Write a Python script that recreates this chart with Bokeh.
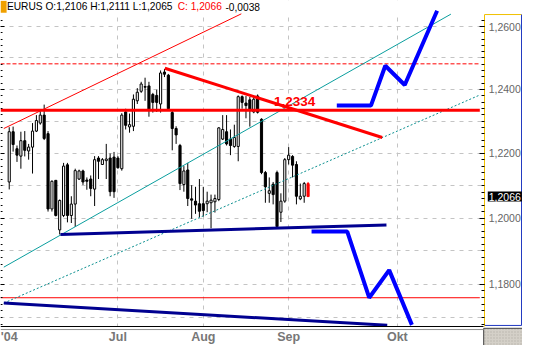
import numpy as np
from bokeh.plotting import figure
from bokeh.models import Range1d, FixedTicker, Label, ColumnDataSource, LogAxis
from bokeh.embed import file_html
from bokeh.resources import INLINE

# ---- daily EUR/USD candles (bar index 0 .. 77) ----
opens = [1.2111, 1.2267, 1.2214, 1.2191, 1.2239, 1.2207, 1.2219, 1.2269, 1.2294, 1.2319,
         1.2261, 1.2028, 1.2116, 1.1964, 1.2008, 1.2164, 1.2008, 1.2043, 1.2120, 1.2145,
         1.2117, 1.2120, 1.2089, 1.2185, 1.2165, 1.2177, 1.2185, 1.2188, 1.2185, 1.2152,
         1.2329, 1.2282, 1.2284, 1.2364, 1.2394, 1.2409, 1.2411, 1.2384, 1.2381, 1.2354,
         1.2455, 1.2445, 1.2327, 1.2277, 1.2224, 1.2103, 1.2148, 1.2059, 1.2052, 1.2044,
         1.2044, 1.2044, 1.2047, 1.2050, 1.2057, 1.2244, 1.2267, 1.2244, 1.2221, 1.2221,
         1.2377, 1.2357, 1.2367, 1.2329, 1.2379, 1.2306, 1.2140, 1.2076, 1.2104, 1.2140,
         1.2018, 1.2052, 1.2180, 1.2190, 1.2165, 1.2059, 1.2067, 1.2106]
closes = [1.2267, 1.2227, 1.2194, 1.2239, 1.2209, 1.2219, 1.2269, 1.2302, 1.2319, 1.2246,
          1.2028, 1.2113, 1.2008, 1.2054, 1.2160, 1.2008, 1.2043, 1.2146, 1.2145, 1.2111,
          1.2113, 1.2091, 1.2180, 1.2175, 1.2180, 1.2182, 1.2081, 1.2081, 1.2155, 1.2319,
          1.2287, 1.2289, 1.2369, 1.2391, 1.2417, 1.2407, 1.2334, 1.2359, 1.2359, 1.2452,
          1.2448, 1.2339, 1.2277, 1.2257, 1.2106, 1.2145, 1.2060, 1.2055, 1.2040, 1.2021,
          1.2023, 1.2052, 1.2055, 1.2060, 1.2279, 1.2274, 1.2229, 1.2224, 1.2249, 1.2377,
          1.2359, 1.2349, 1.2337, 1.2369, 1.2328, 1.2140, 1.2096, 1.2084, 1.2072, 1.1974,
          1.2052, 1.2180, 1.2194, 1.2163, 1.2067, 1.2067, 1.2106, 1.2066]
highs = [1.2281, 1.2283, 1.2224, 1.2267, 1.2269, 1.2229, 1.2294, 1.2319, 1.2331, 1.2352,
         1.2269, 1.2116, 1.2116, 1.2057, 1.2170, 1.2170, 1.2067, 1.2152, 1.2149, 1.2149,
         1.2125, 1.2131, 1.2191, 1.2191, 1.2185, 1.2229, 1.2199, 1.2204, 1.2191, 1.2325,
         1.2339, 1.2324, 1.2384, 1.2404, 1.2424, 1.2437, 1.2424, 1.2389, 1.2399, 1.2460,
         1.2465, 1.2449, 1.2334, 1.2284, 1.2229, 1.2160, 1.2170, 1.2101, 1.2096, 1.2120,
         1.2096, 1.2081, 1.2072, 1.2072, 1.2281, 1.2319, 1.2319, 1.2274, 1.2289, 1.2381,
         1.2381, 1.2379, 1.2376, 1.2379, 1.2384, 1.2309, 1.2145, 1.2125, 1.2111, 1.2146,
         1.2076, 1.2185, 1.2219, 1.2194, 1.2175, 1.2106, 1.2111, 1.2111]
lows = [1.2088, 1.2205, 1.2173, 1.2152, 1.2190, 1.2180, 1.2137, 1.2266, 1.2289, 1.2241,
        1.2020, 1.2020, 1.2005, 1.1950, 1.2003, 1.1987, 1.1985, 1.1973, 1.2117, 1.2102,
        1.2087, 1.2067, 1.2037, 1.2120, 1.2164, 1.2120, 1.2067, 1.2062, 1.2152, 1.2146,
        1.2274, 1.2264, 1.2269, 1.2354, 1.2389, 1.2364, 1.2314, 1.2327, 1.2329, 1.2327,
        1.2439, 1.2334, 1.2209, 1.2229, 1.2086, 1.2081, 1.2037, 1.1998, 1.2013, 1.2003,
        1.2005, 1.2018, 1.1969, 1.2017, 1.2052, 1.2241, 1.2224, 1.2194, 1.2217, 1.2175,
        1.2339, 1.2309, 1.2283, 1.2325, 1.2324, 1.2135, 1.2047, 1.2047, 1.2042, 1.1969,
        1.1988, 1.2047, 1.2165, 1.2125, 1.2042, 1.2055, 1.2047, 1.2065]

# ---- axis ticks / labels ----
month_pos = [0, 28, 50, 72, 100]
month_labels = ["'04", "Jul", "Aug", "Sep", "Okt"]
price_ticks = [1.18, 1.20, 1.22, 1.24, 1.26]
price_labels = ["1,1800", "1,2000", "1,2200", "1,2400", "1,2600"]
grid_levels = [1.17, 1.18, 1.19, 1.20, 1.21, 1.22, 1.23, 1.24, 1.25, 1.26]
minor_levels = [1.168, 1.170, 1.172, 1.174, 1.176, 1.178, 1.180, 1.182, 1.184, 1.186,
                1.188, 1.190, 1.192, 1.194, 1.196, 1.198, 1.200, 1.202, 1.204, 1.206,
                1.208, 1.210, 1.212, 1.214, 1.216, 1.218, 1.220, 1.222, 1.224, 1.226,
                1.228, 1.230, 1.232, 1.234, 1.236, 1.238, 1.240, 1.242, 1.244, 1.246,
                1.248, 1.250, 1.252, 1.254, 1.256, 1.258, 1.260, 1.262]

# ---- drawn lines (bar index, price) ----
red_channel_x = [-1.4, 59.8]
red_channel_y = [1.2277, 1.2641]
red_dashed_level = 1.2481
red_level = 1.2334
red_low_level = 1.1759
red_down_x = [40.1, 96.1]
red_down_y = [1.2467, 1.2249]
teal_x = [-1.4, 113.8]
teal_y = [1.1851, 1.2640]
teal_dot_x = [-1.4, 121.2]
teal_dot_y = [1.1743, 1.2382]
navy_support_x = [13.2, 97.2]
navy_support_y = [1.1950, 1.1979]
navy_low_x = [-1.4, 97.4]
navy_low_y = [1.1743, 1.1677]
blue_up_x = [84.4, 93.2, 96.9, 101.9, 110.25]
blue_up_y = [1.2349, 1.2349, 1.2475, 1.2414, 1.2651]
blue_dn_x = [77.9, 87.1, 92.75, 97.9, 103.75]
blue_dn_y = [1.1959, 1.1959, 1.1759, 1.1842, 1.1678]

n = len(opens)
x = list(range(n))
tops = [max(o, c) for o, c in zip(opens, closes)]
bots = [min(o, c) for o, c in zip(opens, closes)]
fills = ["white" if c > o else "black" for o, c in zip(opens, closes)]
lines = ["black"] * n
fills[-1] = "#ff0000"
lines[-1] = "#ff0000"
src = ColumnDataSource(dict(x=x, top=tops, bottom=bots, high=highs, low=lows, fill=fills, line=lines))

FONT = "Liberation Sans"
# whole canvas is the frame; axes sit at fixed locations inside it
x_start, x_end = -2.25, 132.25
y_start, y_end = 1.16168, 1.26840
plot_right = 122.25      # right edge of the chart area
axis_x = 122.5           # price axis line
plot_bottom = 1.16735    # time axis line
plot_top = 1.26408       # top of the chart area (below header)
panel_top = 1.26387
panel_bottom = 1.16763
panel_right = 132.0
line_end = 121.25

p = figure(width=522, height=345, y_axis_type="log",
           x_range=Range1d(x_start, x_end), y_range=Range1d(y_start, y_end),
           output_backend="svg", toolbar_location=None, y_axis_location="right",
           min_border=0, background_fill_color="white", border_fill_color="white",
           outline_line_color=None)

# grid
p.ygrid.ticker = FixedTicker(ticks=grid_levels)
p.xgrid.ticker = FixedTicker(ticks=month_pos[1:])
for g in (p.xgrid[0], p.ygrid[0]):
    g.grid_line_color = "#c4c4c4"
    g.grid_line_dash = "4 5"
    g.grid_line_width = 1

# y axis (right)
yax = p.yaxis[0]
yax.fixed_location = axis_x
yax.bounds = (plot_bottom, panel_top)
yax.ticker = FixedTicker(ticks=price_ticks, minor_ticks=minor_levels)
yax.major_label_overrides = dict(zip(price_ticks, price_labels))
yax.major_tick_in = 5
yax.major_tick_out = 0
yax.minor_tick_in = 3
yax.minor_tick_out = 0
yax.major_tick_line_color = "black"
yax.minor_tick_line_color = "black"
yax.axis_line_color = "#f0c000"
yax.axis_line_width = 1
yax.major_label_text_font = FONT
yax.major_label_text_font_size = "10.5px"
yax.major_label_text_color = "#666666"
yax.major_label_standoff = 4

# left edge ticks
lax = LogAxis(fixed_location=x_start, bounds=(plot_bottom, plot_top),
              ticker=FixedTicker(ticks=price_ticks, minor_ticks=minor_levels),
              major_tick_in=4, major_tick_out=0, minor_tick_in=2, minor_tick_out=0,
              axis_line_color=None, major_label_text_color=None,
              major_tick_line_color="black", minor_tick_line_color="black")
p.add_layout(lax, "left")

# x axis
xax = p.xaxis[0]
xax.fixed_location = plot_bottom
xax.bounds = (x_start, plot_right)
xax.ticker = FixedTicker(ticks=month_pos)
xax.major_label_overrides = dict(zip(month_pos, month_labels))
xax.major_tick_in = 0
xax.major_tick_out = 0
xax.minor_tick_line_color = None
xax.axis_line_color = "black"
xax.major_label_text_font = FONT
xax.major_label_text_font_style = "bold"
xax.major_label_text_font_size = "12.5px"
xax.major_label_text_color = "#777777"
xax.major_label_standoff = 4

# white panels hiding the grid outside the chart area
p.quad(left=[plot_right, x_start, x_start], right=[x_end, plot_right, plot_right],
       bottom=[y_start, plot_top, y_start], top=[y_end, y_end, plot_bottom],
       fill_color="white", line_color=None)
# bottom-right corner box
p.quad(left=[plot_right], right=[x_end], bottom=[y_start], top=[1.16678],
       fill_color="#d4d0c8", line_color="#404040", line_width=1,
       hatch_pattern="dot", hatch_color="#b8b4ac", hatch_scale=3)
# price panel frame
p.line([axis_x, panel_right], [panel_top, panel_top], line_color="#f0c000", line_width=1)
p.line([panel_right, panel_right, axis_x], [panel_top, panel_bottom, panel_bottom],
       line_color="#2038c0", line_width=1)
p.line([x_start, plot_right], [1.16641, 1.16641], line_color="#909090", line_width=1)

# candles
p.segment(x0="x", y0="low", x1="x", y1="high", source=src, line_color="line", line_width=1)
p.vbar(x="x", top="top", bottom="bottom", width=0.55, source=src,
       fill_color="fill", line_color="line", line_width=1)

# trend lines
p.line([x_start, line_end], [red_dashed_level] * 2, line_color="#ff0000", line_width=1, line_dash="4 2")
p.line([x_start, line_end], [red_low_level] * 2, line_color="#ff0000", line_width=1)
p.line(red_channel_x, red_channel_y, line_color="#ff0000", line_width=1)
p.line(teal_x, teal_y, line_color="#0a9e9e", line_width=1)
p.line(teal_dot_x, teal_dot_y, line_color="#0a8f8f", line_width=1, line_dash="2 2")
p.line(navy_support_x, navy_support_y, line_color="#000090", line_width=3)
p.line(navy_low_x, navy_low_y, line_color="#000090", line_width=3)
p.line([x_start, line_end], [red_level] * 2, line_color="#ff0000", line_width=3)
p.line(red_down_x, red_down_y, line_color="#ff0000", line_width=3)
p.line(blue_up_x, blue_up_y, line_color="#0000ff", line_width=4)
p.line(blue_dn_x, blue_dn_y, line_color="#0000ff", line_width=4)

# texts
p.add_layout(Label(x=68.2, y=1.2361, text="1,2334", text_color="#ff0000", text_font=FONT,
                   text_font_style="bold", text_font_size="13.5px", text_baseline="middle"))
hdr_y = 1.2664
p.add_layout(Label(x=x_start, y=hdr_y, text="  ", background_fill_color="#f0a000",
                   text_font_size="11px", text_baseline="middle"))
p.add_layout(Label(x=-0.6, y=hdr_y, text="EURUS O:1,2106 H:1,2111 L:1,2065", text_color="black",
                   text_font=FONT, text_font_size="10.2px", text_baseline="middle"))
p.add_layout(Label(x=43.4, y=hdr_y, text="C: 1,2066", text_color="#ff0000",
                   text_font=FONT, text_font_size="10.2px", text_baseline="middle"))
p.add_layout(Label(x=55.7, y=hdr_y, text="-0,0038", text_color="black",
                   text_font=FONT, text_font_size="10.2px", text_baseline="middle"))
p.add_layout(Label(x=123.3, y=closes[-1], text="1,2066", text_color="white",
                   background_fill_color="black", text_font=FONT, text_font_size="10.5px",
                   text_baseline="middle", padding=1))

open("out.html", "w").write(file_html(p, INLINE))
